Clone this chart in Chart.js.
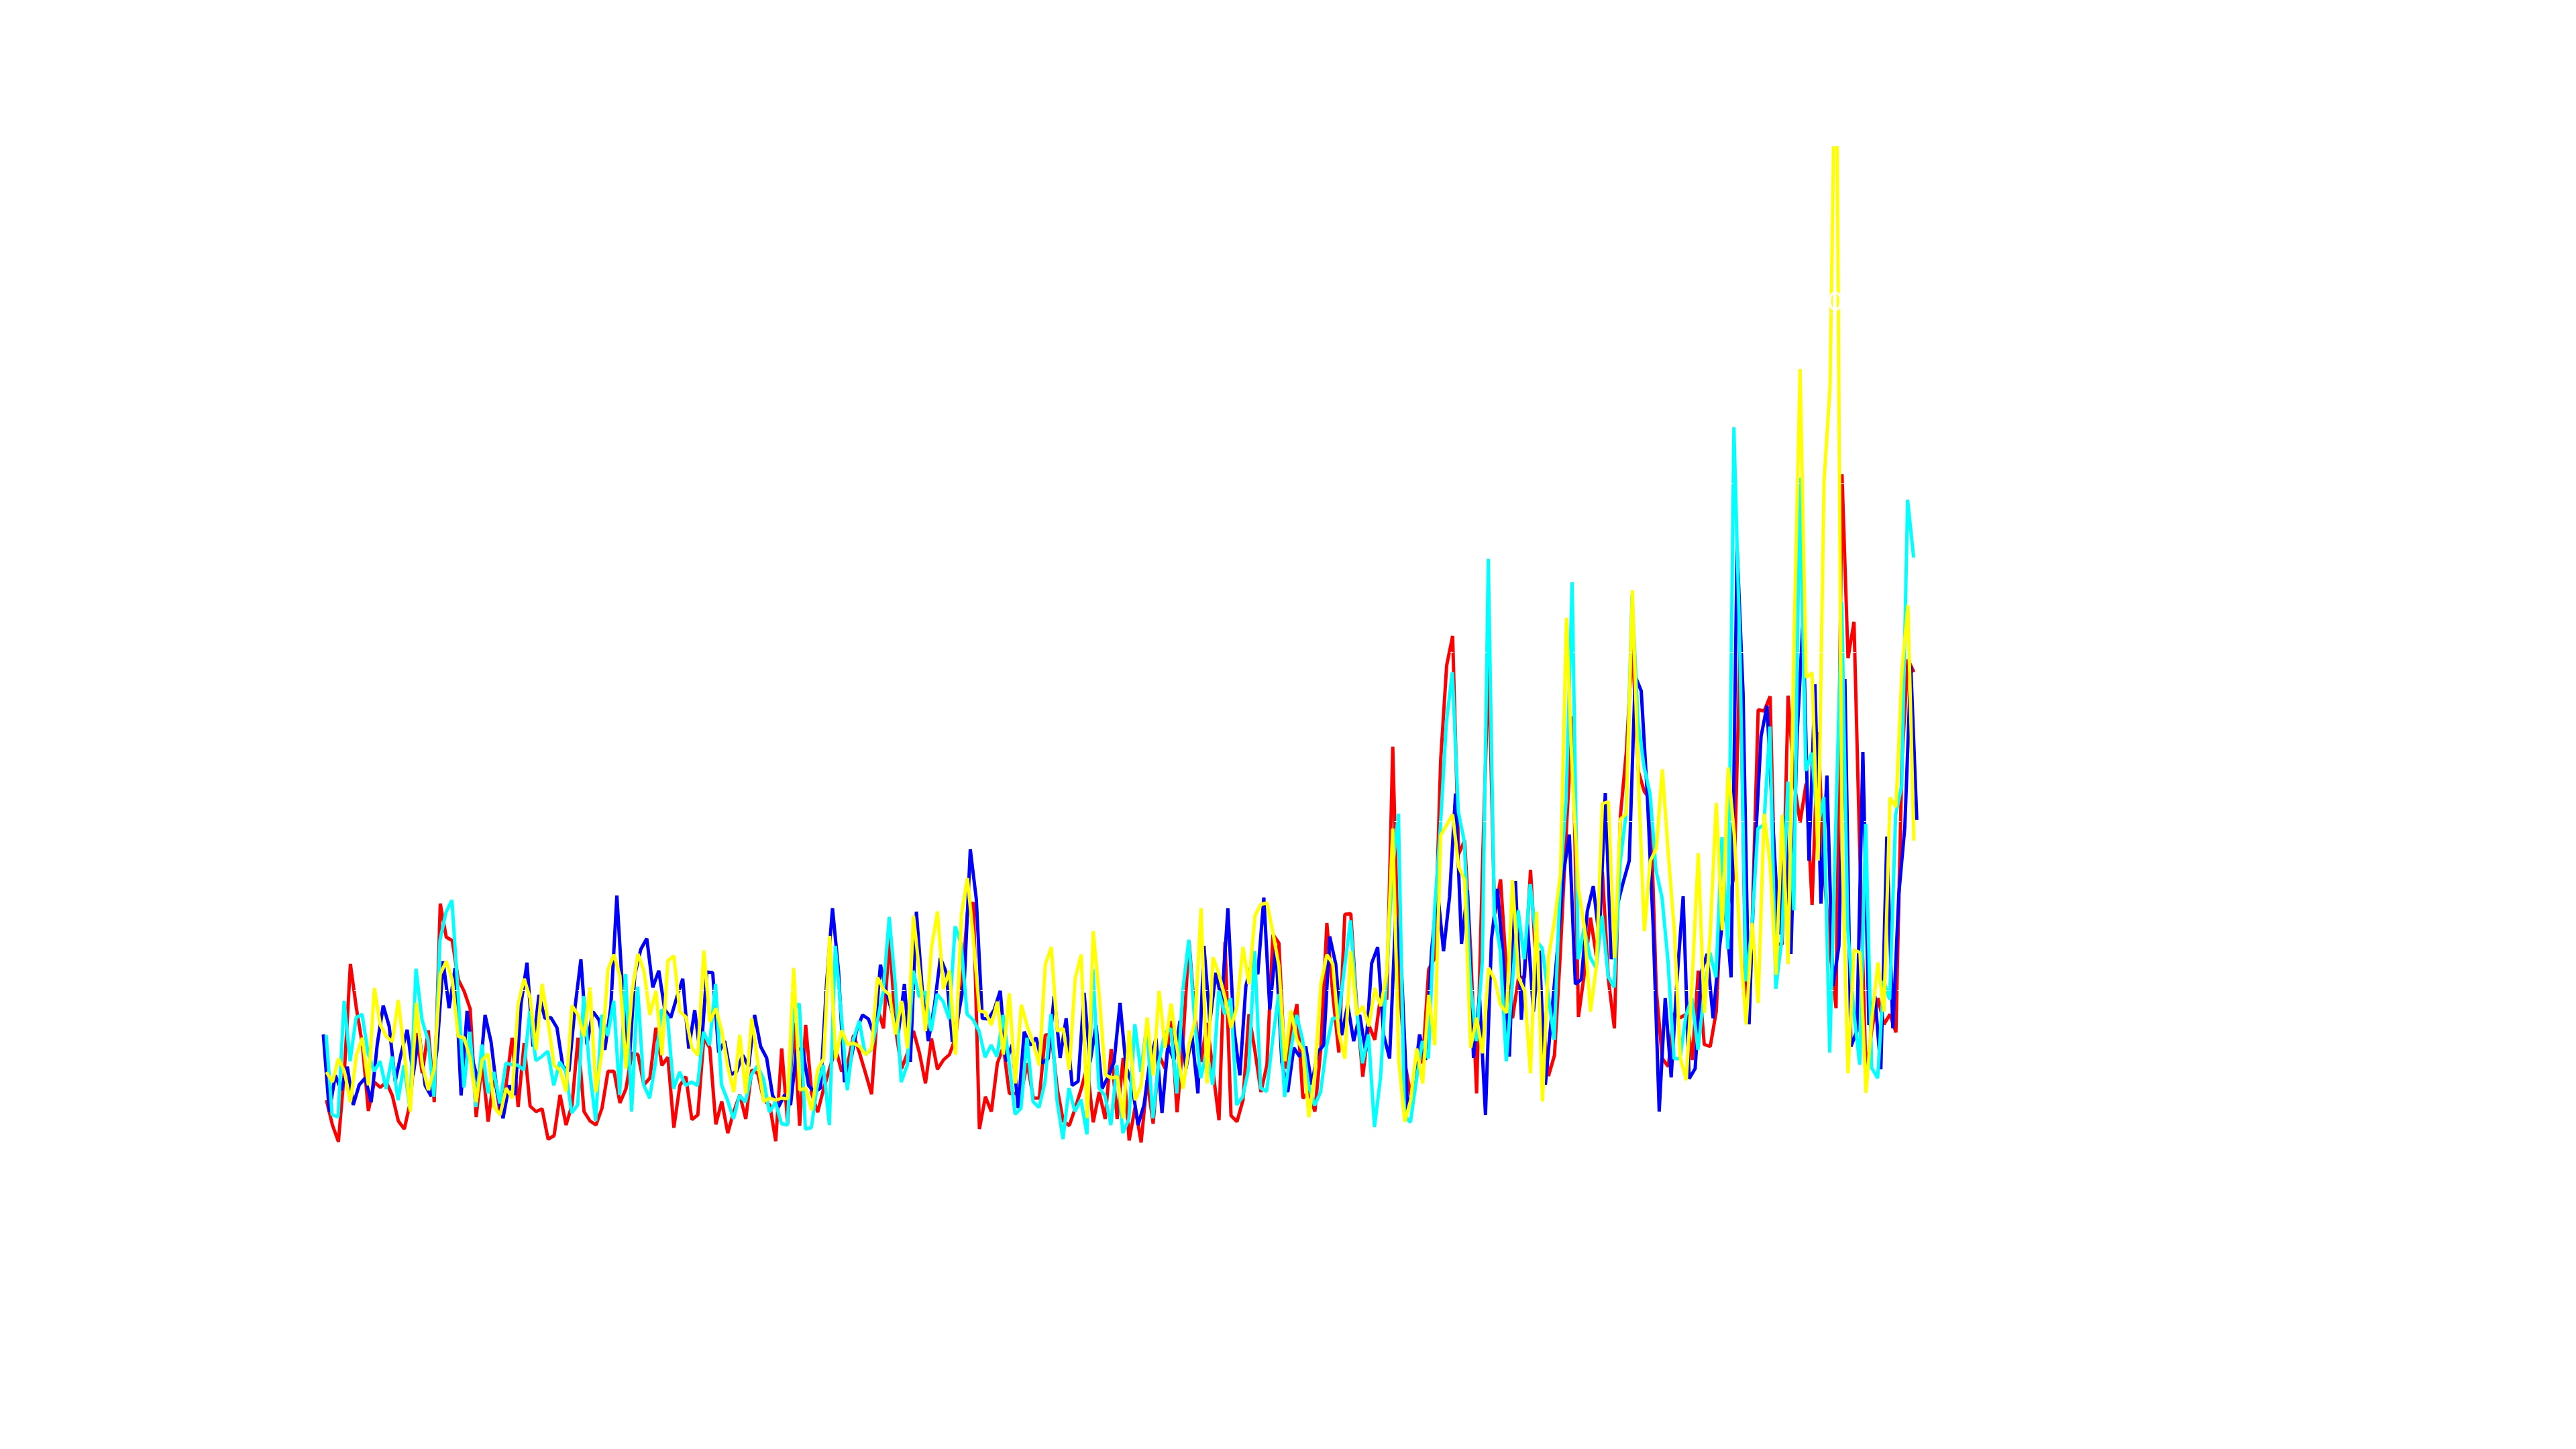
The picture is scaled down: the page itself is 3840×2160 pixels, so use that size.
<!DOCTYPE html>
<html><head><meta charset="utf-8">
<style>html,body{margin:0;padding:0;background:#fff}canvas{display:block}</style>
<script src="https://cdn.jsdelivr.net/npm/chart.js@4/dist/chart.umd.min.js"></script>
</head><body><canvas id="c" width="3840" height="2160"></canvas>
<script>
const yTicks = [0,252,504,756,1008,1260,1512];
const redValues = [88,51,26,131,291,225,171,72,115,107,115,95,57,45,85,188,128,192,85,381,331,326,268,250,224,63,145,56,128,68,111,181,78,173,79,71,75,30,35,96,51,81,181,71,57,51,76,131,131,84,105,158,156,111,121,196,140,152,47,110,123,59,66,181,166,52,86,39,71,96,60,133,128,88,81,27,165,53,203,50,200,98,70,105,135,165,131,141,185,158,128,97,225,195,331,195,135,158,191,158,113,180,134,148,156,181,251,368,383,45,93,71,143,168,98,98,101,143,91,91,185,186,105,57,50,76,105,138,55,100,60,164,60,151,28,78,25,118,53,155,135,206,70,178,325,211,145,203,131,58,324,65,56,88,216,161,100,141,335,322,135,188,231,91,101,71,165,352,245,159,365,366,225,123,200,178,245,238,615,278,145,95,145,145,283,300,595,736,780,455,475,311,98,445,741,366,417,278,210,271,271,431,278,215,124,155,311,495,660,212,278,360,303,428,268,195,511,608,768,578,548,536,251,150,138,218,211,216,148,281,171,168,220,405,378,425,766,211,351,670,668,690,321,320,691,561,502,560,379,637,428,311,225,1021,747,801,445,125,195,240,201,216,189,595,745,726];
const blueValues = [186,71,125,103,138,81,111,121,85,171,229,198,116,158,193,125,188,110,94,165,295,225,285,95,221,145,111,215,175,101,61,110,96,231,293,168,245,210,211,196,138,131,225,298,171,220,208,163,228,393,245,135,275,313,329,256,281,223,211,241,269,165,222,151,279,278,159,176,126,131,155,138,215,168,151,95,78,96,81,163,165,110,100,106,261,374,281,115,145,191,215,209,183,290,248,218,188,261,145,369,251,176,228,300,278,175,215,265,462,388,210,209,223,251,146,171,76,190,170,181,143,150,243,151,210,110,116,248,145,200,105,123,145,233,138,111,51,81,148,180,69,170,148,206,135,185,98,318,205,278,235,374,195,125,258,293,276,390,223,318,145,100,166,153,168,111,160,170,332,291,185,230,176,215,161,292,316,185,150,363,278,74,110,186,148,311,400,310,391,545,321,401,151,243,66,328,403,295,153,415,208,351,220,311,111,211,311,425,484,261,268,370,407,328,546,298,378,413,445,720,698,545,345,71,240,122,271,392,120,135,278,306,210,311,385,271,912,695,201,461,630,676,495,335,511,306,628,804,445,708,381,572,258,318,716,168,191,607,200,243,134,481,195,395,495,735,506];
const cyanValues = [185,66,63,236,146,211,216,158,131,146,105,153,88,140,75,284,208,178,93,326,368,386,251,107,190,78,171,98,130,83,143,141,140,133,221,147,153,161,110,145,131,69,81,243,131,57,215,184,236,96,276,71,257,111,91,145,223,211,105,130,110,115,110,190,170,261,111,88,60,95,85,126,139,120,70,85,53,51,221,232,45,47,111,140,51,318,215,103,178,206,156,163,205,250,361,261,115,140,281,242,250,191,246,235,209,347,321,216,208,191,152,170,153,215,145,67,76,181,86,77,115,216,88,30,106,71,89,37,283,106,95,51,140,39,60,201,130,201,61,145,188,195,98,251,327,205,121,161,111,251,216,240,81,93,135,310,106,101,178,246,93,161,215,178,111,80,100,168,210,210,286,356,225,143,186,48,121,271,430,515,65,55,118,176,150,366,495,651,726,518,473,265,176,295,895,365,311,146,261,371,298,410,325,315,245,178,411,535,860,298,345,301,285,363,273,256,441,515,841,651,585,545,430,390,295,150,150,215,240,163,245,308,271,480,313,1091,761,265,345,493,498,645,254,328,563,371,1016,579,606,495,540,159,495,831,345,221,141,500,136,121,266,238,513,556,983,897];
const yellowValues = [130,115,150,131,85,155,181,110,255,200,183,175,237,158,71,233,141,103,135,276,295,268,183,181,150,85,148,157,78,66,106,91,231,269,240,163,261,205,140,133,101,229,215,183,256,100,161,283,305,273,135,248,306,281,215,251,155,296,303,220,212,166,155,311,205,225,191,138,100,185,98,210,145,86,91,88,91,90,285,103,106,73,133,150,333,150,192,171,173,168,156,165,271,253,245,186,236,165,363,278,191,315,369,254,281,156,365,419,328,221,219,200,235,156,247,113,230,198,173,140,290,316,191,195,133,270,305,61,340,245,126,121,123,61,192,88,110,211,125,251,166,232,165,105,171,206,374,113,301,275,241,196,228,316,261,363,380,382,338,288,146,222,178,163,63,128,261,305,291,188,150,310,215,228,198,255,228,278,493,148,56,88,165,113,245,170,483,498,514,436,416,166,211,158,285,268,230,218,416,271,251,128,369,86,301,355,425,807,568,403,345,220,288,530,533,300,507,515,848,568,340,445,463,581,455,341,151,118,270,456,218,336,531,341,584,485,318,201,352,233,515,438,275,513,291,780,1178,718,725,445,1011,1151,1761,462,128,312,308,99,211,293,220,539,525,728,826,475];
const seriesOrder = ['red','blue','cyan','yellow'];
const seriesValues = {red:redValues,blue:blueValues,cyan:cyanValues,yellow:yellowValues};
const seriesColors = {red:'#ff0000',blue:'#0000ff',cyan:'#00ffff',yellow:'#ffff00'};
const seriesShift = {red:0.52,blue:0,cyan:0.47,yellow:0.52};
const hiddenLabel = {text:'0', x:252.4, y:1276};

const whiteLabel = {id:'whiteLabel',afterDraw(chart){
  const {ctx,scales}=chart;
  ctx.save();
  ctx.fillStyle='#ffffff';
  ctx.font='40px "Liberation Sans"';
  ctx.textAlign='center';ctx.textBaseline='middle';
  ctx.fillText(hiddenLabel.text,scales.x.getPixelForValue(hiddenLabel.x),scales.y.getPixelForValue(hiddenLabel.y));
  ctx.restore();
}};

new Chart(document.getElementById('c'),{
  type:'line',
  data:{datasets:seriesOrder.map((name,n)=>({
    label:name,
    data:seriesValues[name].map((v,i)=>({x:i+seriesShift[name],y:v})),
    borderColor:seriesColors[name],
    backgroundColor:seriesColors[name],
    borderWidth:5,
    borderJoinStyle:'bevel',
    borderCapStyle:'butt',
    pointRadius:0,
    tension:0,
    fill:false,
    order:seriesOrder.length-n,
    clip:{left:10,right:10,top:-2,bottom:10}
  }))},
  options:{
    responsive:false,animation:false,devicePixelRatio:1,
    layout:{padding:{left:480,right:384,top:216,bottom:432}},
    plugins:{legend:{display:false},title:{display:false},tooltip:{enabled:false}},
    scales:{
      x:{type:'linear',display:false,min:-0.22,max:333.04},
      y:{type:'linear',min:yTicks[0],max:yTicks[yTicks.length-1],
         afterBuildTicks(s){s.ticks=yTicks.map(v=>({value:v}));},
         ticks:{display:false},
         grid:{color:'#ffffff',lineWidth:1,z:1,drawTicks:false},
         border:{display:false,dash:[5,11.67],dashOffset:2}}
    }
  },
  plugins:[whiteLabel]
});
</script></body></html>
